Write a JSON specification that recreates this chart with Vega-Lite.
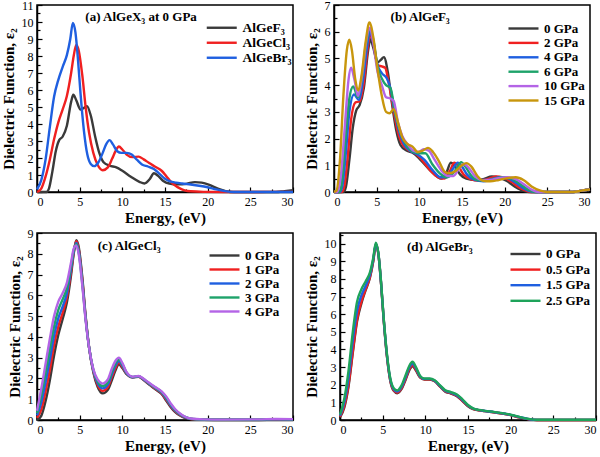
{
"$schema":"https://vega.github.io/schema/vega-lite/v6.json",
"padding":{"left":0,"top":-2,"right":6,"bottom":0},
"background":"white",
"config":{
 "view":{"stroke":"black","strokeWidth":1.5},
 "axis":{"grid":false,"domainColor":"black","domainWidth":1.5,"tickColor":"black","tickWidth":1.2,"labelFont":"Liberation Serif","labelFontSize":12,"labelColor":"black","titleFont":"Liberation Serif","titleFontSize":15,"titleFontWeight":"bold","titleColor":"black","labelPadding":9,"tickSize":-5},
 "axisX":{"titlePadding":3},
 "axisY":{"titlePadding":5},
 "legend":{"labelFont":"Liberation Serif","labelFontSize":13,"labelFontWeight":"bold","labelColor":"black","symbolType":"M-5,0H1","symbolSize":100,"symbolStrokeWidth":2.6,"padding":0,"orient":"none"},
 "line":{"strokeWidth":2.4,"interpolate":"monotone"},
 "text":{"font":"Liberation Serif","fontWeight":"bold","fontSize":13,"color":"black"}
},
"datasets":{
"F":[
{"p":"0 GPa","x":0,"y":0},{"p":"0 GPa","x":1.1,"y":0},{"p":"0 GPa","x":1.4,"y":0.2},{"p":"0 GPa","x":1.8,"y":1.2},{"p":"0 GPa","x":2.2,"y":2.4},{"p":"0 GPa","x":2.6,"y":3.05},{"p":"0 GPa","x":3,"y":3.25},{"p":"0 GPa","x":3.5,"y":3.9},{"p":"0 GPa","x":4,"y":5.3},{"p":"0 GPa","x":4.25,"y":5.72},{"p":"0 GPa","x":4.6,"y":5.4},{"p":"0 GPa","x":5.1,"y":4.85},{"p":"0 GPa","x":5.5,"y":4.95},{"p":"0 GPa","x":5.85,"y":5.05},{"p":"0 GPa","x":6.3,"y":4.5},{"p":"0 GPa","x":6.8,"y":3.3},{"p":"0 GPa","x":7.3,"y":2.3},{"p":"0 GPa","x":7.8,"y":1.75},{"p":"0 GPa","x":8.5,"y":1.55},{"p":"0 GPa","x":9.3,"y":1.45},{"p":"0 GPa","x":10,"y":1.25},{"p":"0 GPa","x":11,"y":0.9},{"p":"0 GPa","x":12,"y":0.6},{"p":"0 GPa","x":12.6,"y":0.5},{"p":"0 GPa","x":13.2,"y":0.75},{"p":"0 GPa","x":13.7,"y":1.1},{"p":"0 GPa","x":14.2,"y":0.95},{"p":"0 GPa","x":14.8,"y":0.65},{"p":"0 GPa","x":15.5,"y":0.5},{"p":"0 GPa","x":16.5,"y":0.45},{"p":"0 GPa","x":17.5,"y":0.48},{"p":"0 GPa","x":18.5,"y":0.58},{"p":"0 GPa","x":19.3,"y":0.55},{"p":"0 GPa","x":20.2,"y":0.42},{"p":"0 GPa","x":21.2,"y":0.2},{"p":"0 GPa","x":22.3,"y":0.03},{"p":"0 GPa","x":23,"y":0},{"p":"0 GPa","x":28,"y":0},{"p":"0 GPa","x":29,"y":0.05},{"p":"0 GPa","x":30,"y":0.1},
{"p":"2 GPa","x":0,"y":0},{"p":"2 GPa","x":0.9,"y":0},{"p":"2 GPa","x":1.2,"y":0.2},{"p":"2 GPa","x":1.6,"y":1.3},{"p":"2 GPa","x":2,"y":2.7},{"p":"2 GPa","x":2.5,"y":3.35},{"p":"2 GPa","x":3,"y":3.4},{"p":"2 GPa","x":3.5,"y":4.1},{"p":"2 GPa","x":4,"y":5.5},{"p":"2 GPa","x":4.25,"y":5.9},{"p":"2 GPa","x":4.6,"y":5.6},{"p":"2 GPa","x":5.1,"y":4.75},{"p":"2 GPa","x":5.6,"y":4.7},{"p":"2 GPa","x":6,"y":4.65},{"p":"2 GPa","x":6.4,"y":4.1},{"p":"2 GPa","x":6.9,"y":3.2},{"p":"2 GPa","x":7.4,"y":2.35},{"p":"2 GPa","x":7.9,"y":1.85},{"p":"2 GPa","x":8.6,"y":1.6},{"p":"2 GPa","x":9.5,"y":1.45},{"p":"2 GPa","x":10.3,"y":1.2},{"p":"2 GPa","x":11.3,"y":0.8},{"p":"2 GPa","x":12.2,"y":0.55},{"p":"2 GPa","x":12.9,"y":0.5},{"p":"2 GPa","x":13.6,"y":0.8},{"p":"2 GPa","x":14.1,"y":1.1},{"p":"2 GPa","x":14.6,"y":0.95},{"p":"2 GPa","x":15.2,"y":0.65},{"p":"2 GPa","x":16,"y":0.48},{"p":"2 GPa","x":17,"y":0.42},{"p":"2 GPa","x":18,"y":0.48},{"p":"2 GPa","x":19,"y":0.58},{"p":"2 GPa","x":19.8,"y":0.55},{"p":"2 GPa","x":20.8,"y":0.38},{"p":"2 GPa","x":21.8,"y":0.15},{"p":"2 GPa","x":22.8,"y":0.02},{"p":"2 GPa","x":23.5,"y":0},{"p":"2 GPa","x":28,"y":0},{"p":"2 GPa","x":29,"y":0.05},{"p":"2 GPa","x":30,"y":0.1},
{"p":"4 GPa","x":0,"y":0},{"p":"4 GPa","x":0.7,"y":0},{"p":"4 GPa","x":1,"y":0.25},{"p":"4 GPa","x":1.4,"y":1.5},{"p":"4 GPa","x":1.8,"y":3},{"p":"4 GPa","x":2.35,"y":3.65},{"p":"4 GPa","x":2.9,"y":3.45},{"p":"4 GPa","x":3.4,"y":4.2},{"p":"4 GPa","x":3.9,"y":5.5},{"p":"4 GPa","x":4.2,"y":6},{"p":"4 GPa","x":4.6,"y":5.6},{"p":"4 GPa","x":5.1,"y":4.75},{"p":"4 GPa","x":5.6,"y":4.45},{"p":"4 GPa","x":6.2,"y":4.25},{"p":"4 GPa","x":6.6,"y":3.9},{"p":"4 GPa","x":7.1,"y":3},{"p":"4 GPa","x":7.6,"y":2.3},{"p":"4 GPa","x":8.2,"y":1.8},{"p":"4 GPa","x":8.9,"y":1.55},{"p":"4 GPa","x":9.8,"y":1.4},{"p":"4 GPa","x":10.6,"y":1.2},{"p":"4 GPa","x":11.6,"y":0.8},{"p":"4 GPa","x":12.5,"y":0.55},{"p":"4 GPa","x":13.2,"y":0.55},{"p":"4 GPa","x":13.9,"y":0.85},{"p":"4 GPa","x":14.5,"y":1.1},{"p":"4 GPa","x":15,"y":0.95},{"p":"4 GPa","x":15.6,"y":0.65},{"p":"4 GPa","x":16.5,"y":0.45},{"p":"4 GPa","x":17.5,"y":0.4},{"p":"4 GPa","x":18.5,"y":0.48},{"p":"4 GPa","x":19.5,"y":0.55},{"p":"4 GPa","x":20.3,"y":0.52},{"p":"4 GPa","x":21.3,"y":0.35},{"p":"4 GPa","x":22.3,"y":0.12},{"p":"4 GPa","x":23.2,"y":0.01},{"p":"4 GPa","x":24,"y":0},{"p":"4 GPa","x":28,"y":0},{"p":"4 GPa","x":29,"y":0.05},{"p":"4 GPa","x":30,"y":0.1},
{"p":"6 GPa","x":0,"y":0},{"p":"6 GPa","x":0.6,"y":0},{"p":"6 GPa","x":0.9,"y":0.3},{"p":"6 GPa","x":1.3,"y":1.8},{"p":"6 GPa","x":1.8,"y":3.5},{"p":"6 GPa","x":2.25,"y":3.95},{"p":"6 GPa","x":2.8,"y":3.55},{"p":"6 GPa","x":3.3,"y":4.3},{"p":"6 GPa","x":3.8,"y":5.6},{"p":"6 GPa","x":4.2,"y":6.1},{"p":"6 GPa","x":4.6,"y":5.7},{"p":"6 GPa","x":5.1,"y":4.7},{"p":"6 GPa","x":5.6,"y":4.25},{"p":"6 GPa","x":6.1,"y":4},{"p":"6 GPa","x":6.6,"y":3.9},{"p":"6 GPa","x":7.2,"y":2.9},{"p":"6 GPa","x":7.8,"y":2.2},{"p":"6 GPa","x":8.5,"y":1.75},{"p":"6 GPa","x":9.3,"y":1.5},{"p":"6 GPa","x":10,"y":1.45},{"p":"6 GPa","x":10.7,"y":1.45},{"p":"6 GPa","x":11.5,"y":1.05},{"p":"6 GPa","x":12.4,"y":0.7},{"p":"6 GPa","x":13.2,"y":0.55},{"p":"6 GPa","x":13.8,"y":0.65},{"p":"6 GPa","x":14.4,"y":0.9},{"p":"6 GPa","x":14.9,"y":1.12},{"p":"6 GPa","x":15.4,"y":0.95},{"p":"6 GPa","x":16,"y":0.65},{"p":"6 GPa","x":16.8,"y":0.45},{"p":"6 GPa","x":17.8,"y":0.42},{"p":"6 GPa","x":18.8,"y":0.5},{"p":"6 GPa","x":19.8,"y":0.55},{"p":"6 GPa","x":20.8,"y":0.5},{"p":"6 GPa","x":21.8,"y":0.3},{"p":"6 GPa","x":22.8,"y":0.08},{"p":"6 GPa","x":23.6,"y":0},{"p":"6 GPa","x":28,"y":0},{"p":"6 GPa","x":29,"y":0.05},{"p":"6 GPa","x":30,"y":0.1},
{"p":"10 GPa","x":0,"y":0},{"p":"10 GPa","x":0.4,"y":0},{"p":"10 GPa","x":0.8,"y":0.6},{"p":"10 GPa","x":1.3,"y":2.6},{"p":"10 GPa","x":1.7,"y":4.2},{"p":"10 GPa","x":2,"y":4.65},{"p":"10 GPa","x":2.4,"y":4.2},{"p":"10 GPa","x":2.8,"y":3.6},{"p":"10 GPa","x":3.3,"y":4.4},{"p":"10 GPa","x":3.8,"y":5.7},{"p":"10 GPa","x":4.2,"y":6.15},{"p":"10 GPa","x":4.6,"y":5.6},{"p":"10 GPa","x":5.1,"y":4.5},{"p":"10 GPa","x":5.6,"y":4},{"p":"10 GPa","x":6.1,"y":3.55},{"p":"10 GPa","x":6.6,"y":3.5},{"p":"10 GPa","x":7,"y":3.4},{"p":"10 GPa","x":7.5,"y":2.6},{"p":"10 GPa","x":8,"y":2.1},{"p":"10 GPa","x":8.6,"y":1.8},{"p":"10 GPa","x":9.3,"y":1.55},{"p":"10 GPa","x":9.9,"y":1.5},{"p":"10 GPa","x":10.5,"y":1.6},{"p":"10 GPa","x":11.1,"y":1.55},{"p":"10 GPa","x":11.8,"y":1.2},{"p":"10 GPa","x":12.6,"y":0.8},{"p":"10 GPa","x":13.3,"y":0.6},{"p":"10 GPa","x":14,"y":0.6},{"p":"10 GPa","x":14.6,"y":0.85},{"p":"10 GPa","x":15.2,"y":1.05},{"p":"10 GPa","x":15.8,"y":0.9},{"p":"10 GPa","x":16.5,"y":0.6},{"p":"10 GPa","x":17.3,"y":0.45},{"p":"10 GPa","x":18.3,"y":0.45},{"p":"10 GPa","x":19.3,"y":0.52},{"p":"10 GPa","x":20.3,"y":0.55},{"p":"10 GPa","x":21.3,"y":0.48},{"p":"10 GPa","x":22.3,"y":0.28},{"p":"10 GPa","x":23.2,"y":0.08},{"p":"10 GPa","x":24,"y":0},{"p":"10 GPa","x":28,"y":0},{"p":"10 GPa","x":29,"y":0.05},{"p":"10 GPa","x":30,"y":0.1},
{"p":"15 GPa","x":0,"y":0},{"p":"15 GPa","x":0.3,"y":0.05},{"p":"15 GPa","x":0.7,"y":1.2},{"p":"15 GPa","x":1.1,"y":3.6},{"p":"15 GPa","x":1.5,"y":5.3},{"p":"15 GPa","x":1.8,"y":5.7},{"p":"15 GPa","x":2.1,"y":5.3},{"p":"15 GPa","x":2.5,"y":4.2},{"p":"15 GPa","x":2.85,"y":3.8},{"p":"15 GPa","x":3.2,"y":4.3},{"p":"15 GPa","x":3.7,"y":5.6},{"p":"15 GPa","x":4.15,"y":6.35},{"p":"15 GPa","x":4.6,"y":5.8},{"p":"15 GPa","x":5.1,"y":4.6},{"p":"15 GPa","x":5.6,"y":3.6},{"p":"15 GPa","x":6.1,"y":3},{"p":"15 GPa","x":6.5,"y":2.95},{"p":"15 GPa","x":7,"y":3.1},{"p":"15 GPa","x":7.5,"y":2.6},{"p":"15 GPa","x":8,"y":2.05},{"p":"15 GPa","x":8.6,"y":1.8},{"p":"15 GPa","x":9.2,"y":1.7},{"p":"15 GPa","x":9.8,"y":1.5},{"p":"15 GPa","x":10.4,"y":1.55},{"p":"15 GPa","x":11,"y":1.65},{"p":"15 GPa","x":11.6,"y":1.5},{"p":"15 GPa","x":12.3,"y":1.15},{"p":"15 GPa","x":13,"y":0.75},{"p":"15 GPa","x":13.5,"y":0.7},{"p":"15 GPa","x":14.3,"y":0.8},{"p":"15 GPa","x":15,"y":1},{"p":"15 GPa","x":15.5,"y":1.08},{"p":"15 GPa","x":16.1,"y":0.95},{"p":"15 GPa","x":16.8,"y":0.6},{"p":"15 GPa","x":17.5,"y":0.42},{"p":"15 GPa","x":18.3,"y":0.4},{"p":"15 GPa","x":19.3,"y":0.45},{"p":"15 GPa","x":20.3,"y":0.52},{"p":"15 GPa","x":21.3,"y":0.55},{"p":"15 GPa","x":22.2,"y":0.45},{"p":"15 GPa","x":23.2,"y":0.2},{"p":"15 GPa","x":24.2,"y":0.05},{"p":"15 GPa","x":25,"y":0},{"p":"15 GPa","x":28,"y":0},{"p":"15 GPa","x":29,"y":0.05},{"p":"15 GPa","x":30,"y":0.1}
],
"C":[
{"p":"0 GPa","x":0,"y":0},{"p":"0 GPa","x":0.5,"y":0.2},{"p":"0 GPa","x":1,"y":0.9},{"p":"0 GPa","x":1.5,"y":1.9},{"p":"0 GPa","x":2,"y":3.1},{"p":"0 GPa","x":2.5,"y":4.1},{"p":"0 GPa","x":3,"y":4.85},{"p":"0 GPa","x":3.5,"y":5.65},{"p":"0 GPa","x":4,"y":7},{"p":"0 GPa","x":4.3,"y":8},{"p":"0 GPa","x":4.6,"y":8.65},{"p":"0 GPa","x":4.9,"y":8.3},{"p":"0 GPa","x":5.3,"y":6.9},{"p":"0 GPa","x":5.7,"y":5},{"p":"0 GPa","x":6.1,"y":3.5},{"p":"0 GPa","x":6.6,"y":2.3},{"p":"0 GPa","x":7.1,"y":1.6},{"p":"0 GPa","x":7.7,"y":1.28},{"p":"0 GPa","x":8.3,"y":1.45},{"p":"0 GPa","x":8.8,"y":1.95},{"p":"0 GPa","x":9.2,"y":2.4},{"p":"0 GPa","x":9.6,"y":2.68},{"p":"0 GPa","x":10,"y":2.5},{"p":"0 GPa","x":10.5,"y":2.2},{"p":"0 GPa","x":11.2,"y":2.05},{"p":"0 GPa","x":11.9,"y":2.08},{"p":"0 GPa","x":12.5,"y":1.92},{"p":"0 GPa","x":13.1,"y":1.72},{"p":"0 GPa","x":13.8,"y":1.5},{"p":"0 GPa","x":14.6,"y":1.25},{"p":"0 GPa","x":15.2,"y":0.9},{"p":"0 GPa","x":15.7,"y":0.6},{"p":"0 GPa","x":16.2,"y":0.38},{"p":"0 GPa","x":16.8,"y":0.2},{"p":"0 GPa","x":17.3,"y":0.1},{"p":"0 GPa","x":18,"y":0.04},{"p":"0 GPa","x":19.5,"y":0.01},{"p":"0 GPa","x":22,"y":0},{"p":"0 GPa","x":26,"y":0},{"p":"0 GPa","x":28,"y":0.01},{"p":"0 GPa","x":30,"y":0.01},
{"p":"1 GPa","x":0,"y":0.1},{"p":"1 GPa","x":0.5,"y":0.5},{"p":"1 GPa","x":1,"y":1.35},{"p":"1 GPa","x":1.5,"y":2.4},{"p":"1 GPa","x":2,"y":3.6},{"p":"1 GPa","x":2.5,"y":4.5},{"p":"1 GPa","x":3,"y":5.15},{"p":"1 GPa","x":3.5,"y":5.9},{"p":"1 GPa","x":4,"y":7.15},{"p":"1 GPa","x":4.3,"y":8.05},{"p":"1 GPa","x":4.6,"y":8.6},{"p":"1 GPa","x":4.9,"y":8.2},{"p":"1 GPa","x":5.3,"y":6.8},{"p":"1 GPa","x":5.7,"y":4.95},{"p":"1 GPa","x":6.1,"y":3.5},{"p":"1 GPa","x":6.6,"y":2.35},{"p":"1 GPa","x":7.1,"y":1.7},{"p":"1 GPa","x":7.7,"y":1.4},{"p":"1 GPa","x":8.3,"y":1.58},{"p":"1 GPa","x":8.8,"y":2.1},{"p":"1 GPa","x":9.2,"y":2.5},{"p":"1 GPa","x":9.6,"y":2.76},{"p":"1 GPa","x":10,"y":2.56},{"p":"1 GPa","x":10.5,"y":2.23},{"p":"1 GPa","x":11.2,"y":2.06},{"p":"1 GPa","x":11.9,"y":2.09},{"p":"1 GPa","x":12.5,"y":1.94},{"p":"1 GPa","x":13.1,"y":1.74},{"p":"1 GPa","x":13.8,"y":1.53},{"p":"1 GPa","x":14.6,"y":1.28},{"p":"1 GPa","x":15.2,"y":0.95},{"p":"1 GPa","x":15.7,"y":0.65},{"p":"1 GPa","x":16.2,"y":0.42},{"p":"1 GPa","x":16.8,"y":0.23},{"p":"1 GPa","x":17.3,"y":0.12},{"p":"1 GPa","x":18,"y":0.05},{"p":"1 GPa","x":19.5,"y":0.02},{"p":"1 GPa","x":22,"y":0.01},{"p":"1 GPa","x":26,"y":0.01},{"p":"1 GPa","x":28,"y":0.02},{"p":"1 GPa","x":30,"y":0.02},
{"p":"2 GPa","x":0,"y":0.22},{"p":"2 GPa","x":0.5,"y":0.85},{"p":"2 GPa","x":1,"y":1.8},{"p":"2 GPa","x":1.5,"y":2.9},{"p":"2 GPa","x":2,"y":4.05},{"p":"2 GPa","x":2.5,"y":4.9},{"p":"2 GPa","x":3,"y":5.45},{"p":"2 GPa","x":3.5,"y":6.1},{"p":"2 GPa","x":4,"y":7.3},{"p":"2 GPa","x":4.3,"y":8.1},{"p":"2 GPa","x":4.6,"y":8.52},{"p":"2 GPa","x":4.9,"y":8.12},{"p":"2 GPa","x":5.3,"y":6.7},{"p":"2 GPa","x":5.7,"y":4.9},{"p":"2 GPa","x":6.1,"y":3.5},{"p":"2 GPa","x":6.6,"y":2.38},{"p":"2 GPa","x":7.1,"y":1.78},{"p":"2 GPa","x":7.7,"y":1.52},{"p":"2 GPa","x":8.3,"y":1.7},{"p":"2 GPa","x":8.8,"y":2.22},{"p":"2 GPa","x":9.2,"y":2.62},{"p":"2 GPa","x":9.6,"y":2.84},{"p":"2 GPa","x":10,"y":2.62},{"p":"2 GPa","x":10.5,"y":2.25},{"p":"2 GPa","x":11.2,"y":2.06},{"p":"2 GPa","x":11.9,"y":2.1},{"p":"2 GPa","x":12.5,"y":1.95},{"p":"2 GPa","x":13.1,"y":1.76},{"p":"2 GPa","x":13.8,"y":1.55},{"p":"2 GPa","x":14.6,"y":1.31},{"p":"2 GPa","x":15.2,"y":1},{"p":"2 GPa","x":15.7,"y":0.69},{"p":"2 GPa","x":16.2,"y":0.45},{"p":"2 GPa","x":16.8,"y":0.25},{"p":"2 GPa","x":17.3,"y":0.14},{"p":"2 GPa","x":18,"y":0.055},{"p":"2 GPa","x":19.5,"y":0.02},{"p":"2 GPa","x":22,"y":0.01},{"p":"2 GPa","x":26,"y":0.02},{"p":"2 GPa","x":28,"y":0.03},{"p":"2 GPa","x":30,"y":0.02},
{"p":"3 GPa","x":0,"y":0.33},{"p":"3 GPa","x":0.5,"y":1.18},{"p":"3 GPa","x":1,"y":2.25},{"p":"3 GPa","x":1.5,"y":3.4},{"p":"3 GPa","x":2,"y":4.5},{"p":"3 GPa","x":2.5,"y":5.3},{"p":"3 GPa","x":3,"y":5.8},{"p":"3 GPa","x":3.5,"y":6.35},{"p":"3 GPa","x":4,"y":7.45},{"p":"3 GPa","x":4.3,"y":8.17},{"p":"3 GPa","x":4.6,"y":8.46},{"p":"3 GPa","x":4.9,"y":8.03},{"p":"3 GPa","x":5.3,"y":6.6},{"p":"3 GPa","x":5.7,"y":4.85},{"p":"3 GPa","x":6.1,"y":3.5},{"p":"3 GPa","x":6.6,"y":2.42},{"p":"3 GPa","x":7.1,"y":1.87},{"p":"3 GPa","x":7.7,"y":1.63},{"p":"3 GPa","x":8.3,"y":1.82},{"p":"3 GPa","x":8.8,"y":2.36},{"p":"3 GPa","x":9.2,"y":2.74},{"p":"3 GPa","x":9.6,"y":2.92},{"p":"3 GPa","x":10,"y":2.69},{"p":"3 GPa","x":10.5,"y":2.28},{"p":"3 GPa","x":11.2,"y":2.07},{"p":"3 GPa","x":11.9,"y":2.11},{"p":"3 GPa","x":12.5,"y":1.97},{"p":"3 GPa","x":13.1,"y":1.78},{"p":"3 GPa","x":13.8,"y":1.58},{"p":"3 GPa","x":14.6,"y":1.35},{"p":"3 GPa","x":15.2,"y":1.05},{"p":"3 GPa","x":15.7,"y":0.74},{"p":"3 GPa","x":16.2,"y":0.49},{"p":"3 GPa","x":16.8,"y":0.28},{"p":"3 GPa","x":17.3,"y":0.16},{"p":"3 GPa","x":18,"y":0.06},{"p":"3 GPa","x":19.5,"y":0.025},{"p":"3 GPa","x":22,"y":0.015},{"p":"3 GPa","x":26,"y":0.025},{"p":"3 GPa","x":28,"y":0.04},{"p":"3 GPa","x":30,"y":0.03},
{"p":"4 GPa","x":0,"y":0.45},{"p":"4 GPa","x":0.5,"y":1.5},{"p":"4 GPa","x":1,"y":2.7},{"p":"4 GPa","x":1.5,"y":3.9},{"p":"4 GPa","x":2,"y":5},{"p":"4 GPa","x":2.5,"y":5.7},{"p":"4 GPa","x":3,"y":6.1},{"p":"4 GPa","x":3.5,"y":6.6},{"p":"4 GPa","x":4,"y":7.6},{"p":"4 GPa","x":4.3,"y":8.25},{"p":"4 GPa","x":4.6,"y":8.4},{"p":"4 GPa","x":4.9,"y":7.95},{"p":"4 GPa","x":5.3,"y":6.5},{"p":"4 GPa","x":5.7,"y":4.8},{"p":"4 GPa","x":6.1,"y":3.5},{"p":"4 GPa","x":6.6,"y":2.45},{"p":"4 GPa","x":7.1,"y":1.95},{"p":"4 GPa","x":7.7,"y":1.75},{"p":"4 GPa","x":8.3,"y":1.95},{"p":"4 GPa","x":8.8,"y":2.5},{"p":"4 GPa","x":9.2,"y":2.85},{"p":"4 GPa","x":9.6,"y":3},{"p":"4 GPa","x":10,"y":2.75},{"p":"4 GPa","x":10.5,"y":2.3},{"p":"4 GPa","x":11.2,"y":2.08},{"p":"4 GPa","x":11.9,"y":2.12},{"p":"4 GPa","x":12.5,"y":1.98},{"p":"4 GPa","x":13.1,"y":1.8},{"p":"4 GPa","x":13.8,"y":1.6},{"p":"4 GPa","x":14.6,"y":1.38},{"p":"4 GPa","x":15.2,"y":1.1},{"p":"4 GPa","x":15.7,"y":0.78},{"p":"4 GPa","x":16.2,"y":0.52},{"p":"4 GPa","x":16.8,"y":0.3},{"p":"4 GPa","x":17.3,"y":0.17},{"p":"4 GPa","x":18,"y":0.07},{"p":"4 GPa","x":19.5,"y":0.03},{"p":"4 GPa","x":22,"y":0.02},{"p":"4 GPa","x":26,"y":0.03},{"p":"4 GPa","x":28,"y":0.05},{"p":"4 GPa","x":30,"y":0.04}
],
"D":[
{"p":"0 GPa","x":0,"y":0.15},{"p":"0 GPa","x":0.5,"y":0.7},{"p":"0 GPa","x":1,"y":1.9},{"p":"0 GPa","x":1.5,"y":3.8},{"p":"0 GPa","x":2,"y":5.6},{"p":"0 GPa","x":2.5,"y":6.6},{"p":"0 GPa","x":3,"y":7.35},{"p":"0 GPa","x":3.5,"y":8.05},{"p":"0 GPa","x":3.9,"y":9},{"p":"0 GPa","x":4.2,"y":9.95},{"p":"0 GPa","x":4.5,"y":9.4},{"p":"0 GPa","x":4.8,"y":7.8},{"p":"0 GPa","x":5.1,"y":5.8},{"p":"0 GPa","x":5.5,"y":3.6},{"p":"0 GPa","x":5.9,"y":2.2},{"p":"0 GPa","x":6.3,"y":1.65},{"p":"0 GPa","x":6.7,"y":1.52},{"p":"0 GPa","x":7.2,"y":1.75},{"p":"0 GPa","x":7.7,"y":2.3},{"p":"0 GPa","x":8.1,"y":2.8},{"p":"0 GPa","x":8.5,"y":3.05},{"p":"0 GPa","x":8.9,"y":2.8},{"p":"0 GPa","x":9.4,"y":2.4},{"p":"0 GPa","x":9.9,"y":2.3},{"p":"0 GPa","x":10.5,"y":2.3},{"p":"0 GPa","x":11.1,"y":2.2},{"p":"0 GPa","x":11.7,"y":1.9},{"p":"0 GPa","x":12.3,"y":1.62},{"p":"0 GPa","x":13,"y":1.5},{"p":"0 GPa","x":13.7,"y":1.35},{"p":"0 GPa","x":14.3,"y":1.1},{"p":"0 GPa","x":15,"y":0.78},{"p":"0 GPa","x":15.6,"y":0.62},{"p":"0 GPa","x":16.3,"y":0.55},{"p":"0 GPa","x":17,"y":0.5},{"p":"0 GPa","x":18,"y":0.44},{"p":"0 GPa","x":19,"y":0.37},{"p":"0 GPa","x":20,"y":0.28},{"p":"0 GPa","x":21,"y":0.15},{"p":"0 GPa","x":22,"y":0.05},{"p":"0 GPa","x":22.7,"y":0.01},{"p":"0 GPa","x":23.5,"y":0},{"p":"0 GPa","x":25,"y":0},{"p":"0 GPa","x":30,"y":0},
{"p":"0.5 GPa","x":0,"y":0.18},{"p":"0.5 GPa","x":0.5,"y":0.8},{"p":"0.5 GPa","x":1,"y":2},{"p":"0.5 GPa","x":1.5,"y":3.9},{"p":"0.5 GPa","x":2,"y":5.7},{"p":"0.5 GPa","x":2.5,"y":6.7},{"p":"0.5 GPa","x":3,"y":7.4},{"p":"0.5 GPa","x":3.5,"y":8.1},{"p":"0.5 GPa","x":3.9,"y":9.05},{"p":"0.5 GPa","x":4.2,"y":9.95},{"p":"0.5 GPa","x":4.5,"y":9.4},{"p":"0.5 GPa","x":4.8,"y":7.82},{"p":"0.5 GPa","x":5.1,"y":5.82},{"p":"0.5 GPa","x":5.5,"y":3.63},{"p":"0.5 GPa","x":5.9,"y":2.23},{"p":"0.5 GPa","x":6.3,"y":1.68},{"p":"0.5 GPa","x":6.7,"y":1.55},{"p":"0.5 GPa","x":7.2,"y":1.79},{"p":"0.5 GPa","x":7.7,"y":2.35},{"p":"0.5 GPa","x":8.1,"y":2.86},{"p":"0.5 GPa","x":8.5,"y":3.1},{"p":"0.5 GPa","x":8.9,"y":2.85},{"p":"0.5 GPa","x":9.4,"y":2.42},{"p":"0.5 GPa","x":9.9,"y":2.31},{"p":"0.5 GPa","x":10.5,"y":2.31},{"p":"0.5 GPa","x":11.1,"y":2.21},{"p":"0.5 GPa","x":11.7,"y":1.92},{"p":"0.5 GPa","x":12.3,"y":1.64},{"p":"0.5 GPa","x":13,"y":1.52},{"p":"0.5 GPa","x":13.7,"y":1.37},{"p":"0.5 GPa","x":14.3,"y":1.12},{"p":"0.5 GPa","x":15,"y":0.8},{"p":"0.5 GPa","x":15.6,"y":0.63},{"p":"0.5 GPa","x":16.3,"y":0.55},{"p":"0.5 GPa","x":17,"y":0.5},{"p":"0.5 GPa","x":18,"y":0.44},{"p":"0.5 GPa","x":19,"y":0.37},{"p":"0.5 GPa","x":20,"y":0.28},{"p":"0.5 GPa","x":21,"y":0.15},{"p":"0.5 GPa","x":22,"y":0.05},{"p":"0.5 GPa","x":22.7,"y":0.01},{"p":"0.5 GPa","x":23.5,"y":0},{"p":"0.5 GPa","x":25,"y":0},{"p":"0.5 GPa","x":30,"y":0},
{"p":"1.5 GPa","x":0,"y":0.24},{"p":"1.5 GPa","x":0.5,"y":1},{"p":"1.5 GPa","x":1,"y":2.4},{"p":"1.5 GPa","x":1.5,"y":4.5},{"p":"1.5 GPa","x":2,"y":6.2},{"p":"1.5 GPa","x":2.5,"y":7.05},{"p":"1.5 GPa","x":3,"y":7.6},{"p":"1.5 GPa","x":3.5,"y":8.22},{"p":"1.5 GPa","x":3.9,"y":9.12},{"p":"1.5 GPa","x":4.2,"y":10},{"p":"1.5 GPa","x":4.5,"y":9.42},{"p":"1.5 GPa","x":4.8,"y":7.86},{"p":"1.5 GPa","x":5.1,"y":5.86},{"p":"1.5 GPa","x":5.5,"y":3.69},{"p":"1.5 GPa","x":5.9,"y":2.29},{"p":"1.5 GPa","x":6.3,"y":1.74},{"p":"1.5 GPa","x":6.7,"y":1.61},{"p":"1.5 GPa","x":7.2,"y":1.87},{"p":"1.5 GPa","x":7.7,"y":2.45},{"p":"1.5 GPa","x":8.1,"y":2.96},{"p":"1.5 GPa","x":8.5,"y":3.2},{"p":"1.5 GPa","x":8.9,"y":2.93},{"p":"1.5 GPa","x":9.4,"y":2.46},{"p":"1.5 GPa","x":9.9,"y":2.33},{"p":"1.5 GPa","x":10.5,"y":2.33},{"p":"1.5 GPa","x":11.1,"y":2.23},{"p":"1.5 GPa","x":11.7,"y":1.95},{"p":"1.5 GPa","x":12.3,"y":1.67},{"p":"1.5 GPa","x":13,"y":1.55},{"p":"1.5 GPa","x":13.7,"y":1.41},{"p":"1.5 GPa","x":14.3,"y":1.16},{"p":"1.5 GPa","x":15,"y":0.83},{"p":"1.5 GPa","x":15.6,"y":0.65},{"p":"1.5 GPa","x":16.3,"y":0.56},{"p":"1.5 GPa","x":17,"y":0.51},{"p":"1.5 GPa","x":18,"y":0.45},{"p":"1.5 GPa","x":19,"y":0.38},{"p":"1.5 GPa","x":20,"y":0.29},{"p":"1.5 GPa","x":21,"y":0.17},{"p":"1.5 GPa","x":22,"y":0.06},{"p":"1.5 GPa","x":22.7,"y":0.015},{"p":"1.5 GPa","x":23.5,"y":0.005},{"p":"1.5 GPa","x":25,"y":0.005},{"p":"1.5 GPa","x":30,"y":0.005},
{"p":"2.5 GPa","x":0,"y":0.3},{"p":"2.5 GPa","x":0.5,"y":1.2},{"p":"2.5 GPa","x":1,"y":2.8},{"p":"2.5 GPa","x":1.5,"y":5},{"p":"2.5 GPa","x":2,"y":6.7},{"p":"2.5 GPa","x":2.5,"y":7.4},{"p":"2.5 GPa","x":3,"y":7.85},{"p":"2.5 GPa","x":3.5,"y":8.35},{"p":"2.5 GPa","x":3.9,"y":9.2},{"p":"2.5 GPa","x":4.2,"y":10.05},{"p":"2.5 GPa","x":4.5,"y":9.45},{"p":"2.5 GPa","x":4.8,"y":7.9},{"p":"2.5 GPa","x":5.1,"y":5.9},{"p":"2.5 GPa","x":5.5,"y":3.75},{"p":"2.5 GPa","x":5.9,"y":2.35},{"p":"2.5 GPa","x":6.3,"y":1.8},{"p":"2.5 GPa","x":6.7,"y":1.68},{"p":"2.5 GPa","x":7.2,"y":1.95},{"p":"2.5 GPa","x":7.7,"y":2.55},{"p":"2.5 GPa","x":8.1,"y":3.05},{"p":"2.5 GPa","x":8.5,"y":3.3},{"p":"2.5 GPa","x":8.9,"y":3},{"p":"2.5 GPa","x":9.4,"y":2.5},{"p":"2.5 GPa","x":9.9,"y":2.35},{"p":"2.5 GPa","x":10.5,"y":2.35},{"p":"2.5 GPa","x":11.1,"y":2.25},{"p":"2.5 GPa","x":11.7,"y":1.98},{"p":"2.5 GPa","x":12.3,"y":1.7},{"p":"2.5 GPa","x":13,"y":1.58},{"p":"2.5 GPa","x":13.7,"y":1.45},{"p":"2.5 GPa","x":14.3,"y":1.2},{"p":"2.5 GPa","x":15,"y":0.85},{"p":"2.5 GPa","x":15.6,"y":0.66},{"p":"2.5 GPa","x":16.3,"y":0.57},{"p":"2.5 GPa","x":17,"y":0.52},{"p":"2.5 GPa","x":18,"y":0.46},{"p":"2.5 GPa","x":19,"y":0.39},{"p":"2.5 GPa","x":20,"y":0.3},{"p":"2.5 GPa","x":21,"y":0.18},{"p":"2.5 GPa","x":22,"y":0.07},{"p":"2.5 GPa","x":22.7,"y":0.02},{"p":"2.5 GPa","x":23.5,"y":0.01},{"p":"2.5 GPa","x":25,"y":0.01},{"p":"2.5 GPa","x":30,"y":0.01}
]
},
"resolve":{"scale":{"x":"independent","y":"independent","color":"independent"},"legend":{"color":"independent"}},
"spacing":0,
"vconcat":[
{"hconcat":[
 {"width":256,"height":187,
  "resolve":{"axis":{"x":"independent","y":"independent"}},
  "layer":[
   {"data":{"name":"F"},"transform":[{"filter":"datum.p === '0 GPa'"}],"mark":{"type":"line"},
    "encoding":{
     "x":{"field":"x","type":"quantitative","scale":{"domain":[0,30],"nice":false},"title":"Energy, (eV)","axis":{"values":[0,5,10,15,20,25,30]}},
     "y":{"field":"y","type":"quantitative","scale":{"domain":[0,11],"nice":false},"title":"Dielectric Function, ε₂","axis":{"values":[0,1,2,3,4,5,6,7,8,9,10,11]}},
     "color":{"datum":"AlGeF₃","type":"nominal","scale":{"domain":["AlGeF₃","AlGeCl₃","AlGeBr₃"],"range":["#3a3a3a","#f02020","#1f5fe0"]},"legend":{"title":null,"legendX":188,"legendY":16,"rowPadding":0,"labelFontSize":13.5}}
    }},
   {"data":{"name":"C"},"transform":[{"filter":"datum.p === '0 GPa'"}],"mark":{"type":"line"},
    "encoding":{"x":{"field":"x","type":"quantitative","axis":null},"y":{"field":"y","type":"quantitative","axis":null},"color":{"datum":"AlGeCl₃","type":"nominal"}}},
   {"data":{"name":"D"},"transform":[{"filter":"datum.p === '0 GPa'"}],"mark":{"type":"line"},
    "encoding":{"x":{"field":"x","type":"quantitative","axis":null},"y":{"field":"y","type":"quantitative","axis":null},"color":{"datum":"AlGeBr₃","type":"nominal"}}},
   {"data":{"values":[{"t":"(a) AlGeX₃ at 0 GPa"}]},"mark":{"type":"text"},
    "encoding":{"x":{"datum":12.2,"type":"quantitative","axis":{"orient":"bottom","values":[2.5,7.5,12.5,17.5,22.5,27.5],"labels":false,"tickSize":-3,"domain":false,"title":null}},"y":{"datum":10.3,"type":"quantitative","axis":{"orient":"left","values":[0.5,1.5,2.5,3.5,4.5,5.5,6.5,7.5,8.5,9.5,10.5],"labels":false,"tickSize":-3,"domain":false,"title":null}},"text":{"field":"t"}}}
  ]},
 {"width":256,"height":187,
  "resolve":{"axis":{"x":"independent","y":"independent"}},
  "layer":[
   {"data":{"name":"F"},"mark":{"type":"line"},
    "encoding":{
     "x":{"field":"x","type":"quantitative","scale":{"domain":[0,30],"nice":false},"title":"Energy, (eV)","axis":{"values":[0,5,10,15,20,25,30]}},
     "y":{"field":"y","type":"quantitative","scale":{"domain":[0,7],"nice":false},"title":"Dielectric Function, ε₂","axis":{"values":[0,1,2,3,4,5,6,7]}},
     "color":{"field":"p","type":"nominal","scale":{"domain":["0 GPa","2 GPa","4 GPa","6 GPa","10 GPa","15 GPa"],"range":["#3a3a3a","#f02020","#1f5fe0","#1ea36a","#b464e6","#c8960c"]},"legend":{"title":null,"legendX":193,"legendY":17,"rowPadding":0.4}}
    }},
   {"data":{"values":[{"t":"(b) AlGeF₃"}]},"mark":{"type":"text"},
    "encoding":{"x":{"datum":10.1,"type":"quantitative","axis":{"orient":"bottom","values":[2.5,7.5,12.5,17.5,22.5,27.5],"labels":false,"tickSize":-3,"domain":false,"title":null}},"y":{"datum":6.55,"type":"quantitative","axis":{"orient":"left","values":[0.5,1.5,2.5,3.5,4.5,5.5,6.5],"labels":false,"tickSize":-3,"domain":false,"title":null}},"text":{"field":"t"}}}
  ]}
 ],"spacing":4,"resolve":{"scale":{"x":"independent","y":"independent","color":"independent"},"legend":{"color":"independent"}}},
{"hconcat":[
 {"width":256,"height":187,
  "resolve":{"axis":{"x":"independent","y":"independent"}},
  "layer":[
   {"data":{"name":"C"},"mark":{"type":"line"},
    "encoding":{
     "x":{"field":"x","type":"quantitative","scale":{"domain":[0,30],"nice":false},"title":"Energy, (eV)","axis":{"values":[0,5,10,15,20,25,30]}},
     "y":{"field":"y","type":"quantitative","scale":{"domain":[0,9],"nice":false},"title":"Dielectric Function, ε₂","axis":{"values":[0,1,2,3,4,5,6,7,8,9]}},
     "color":{"field":"p","type":"nominal","scale":{"domain":["0 GPa","1 GPa","2 GPa","3 GPa","4 GPa"],"range":["#3a3a3a","#f02020","#1f5fe0","#1ea36a","#b464e6"]},"legend":{"title":null,"legendX":191,"legendY":16,"rowPadding":0}}
    }},
   {"data":{"values":[{"t":"(c) AlGeCl₃"}]},"mark":{"type":"text"},
    "encoding":{"x":{"datum":10.8,"type":"quantitative","axis":{"orient":"bottom","values":[2.5,7.5,12.5,17.5,22.5,27.5],"labels":false,"tickSize":-3,"domain":false,"title":null}},"y":{"datum":8.37,"type":"quantitative","axis":{"orient":"left","values":[0.5,1.5,2.5,3.5,4.5,5.5,6.5,7.5,8.5],"labels":false,"tickSize":-3,"domain":false,"title":null}},"text":{"field":"t"}}}
  ]},
 {"width":256,"height":187,
  "resolve":{"axis":{"x":"independent","y":"independent"}},
  "layer":[
   {"data":{"name":"D"},"mark":{"type":"line"},
    "encoding":{
     "x":{"field":"x","type":"quantitative","scale":{"domain":[0,30],"nice":false},"title":"Energy, (eV)","axis":{"values":[0,5,10,15,20,25,30]}},
     "y":{"field":"y","type":"quantitative","scale":{"domain":[0,10.6],"nice":false},"title":"Dielectric Function, ε₂","axis":{"values":[0,1,2,3,4,5,6,7,8,9,10]}},
     "color":{"field":"p","type":"nominal","scale":{"domain":["0 GPa","0.5 GPa","1.5 GPa","2.5 GPa"],"range":["#3a3a3a","#f02020","#1f5fe0","#1ea35a"]},"legend":{"title":null,"legendX":189,"legendY":14.5,"rowPadding":1.6}}
    }},
   {"data":{"values":[{"t":"(d) AlGeBr₃"}]},"mark":{"type":"text"},
    "encoding":{"x":{"datum":11.7,"type":"quantitative","axis":{"orient":"bottom","values":[2.5,7.5,12.5,17.5,22.5,27.5],"labels":false,"tickSize":-3,"domain":false,"title":null}},"y":{"datum":9.8,"type":"quantitative","axis":{"orient":"left","values":[0.5,1.5,2.5,3.5,4.5,5.5,6.5,7.5,8.5,9.5,10.5],"labels":false,"tickSize":-3,"domain":false,"title":null}},"text":{"field":"t"}}}
  ]}
 ],"spacing":4,"resolve":{"scale":{"x":"independent","y":"independent","color":"independent"},"legend":{"color":"independent"}}}
]
}
